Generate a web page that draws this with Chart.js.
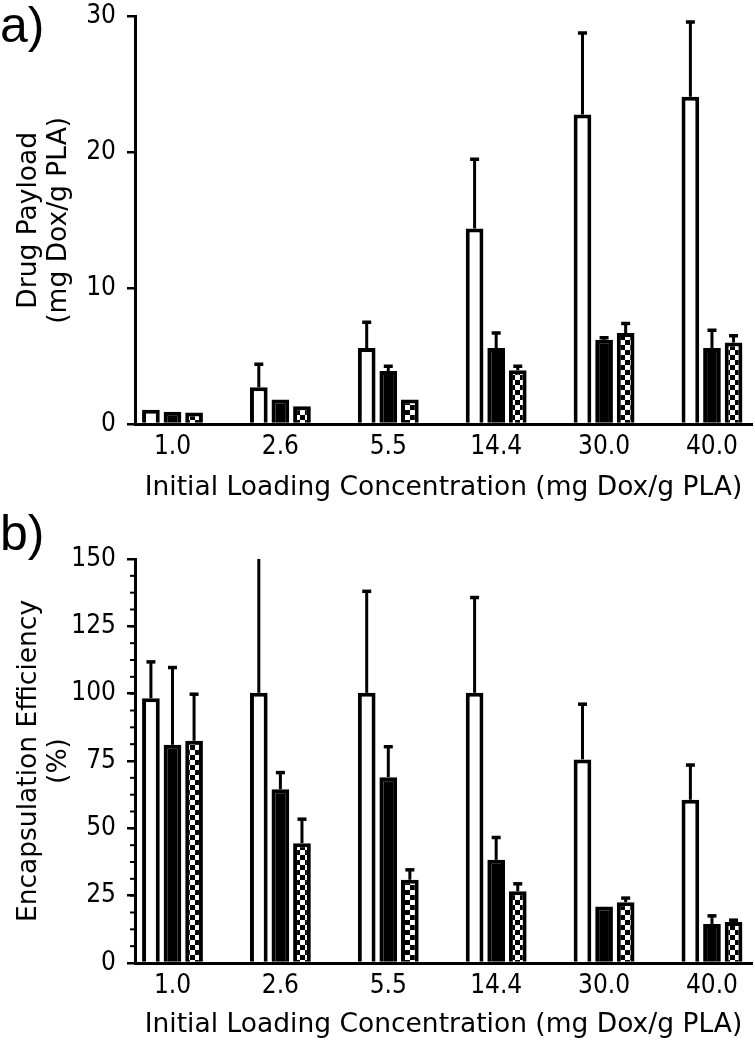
<!DOCTYPE html>
<html lang="en">

<head>
  <meta charset="UTF-8">
  <title>Dox payload e eficiência</title>
  <style>
    body { margin: 0; background: #fff; width: 755px; height: 1050px; position: relative; overflow: hidden; }
    .painel { position: absolute; left: 0; width: 755px; }
    #painel_a { top: -10px; height: 520px; }
    #painel_b { top: 520px; height: 530px; }
    .letra { position: absolute; left: 0; font-family: "Liberation Sans", Arial, sans-serif; font-size: 50px; line-height: 1; color: #000; }
  </style>
  <script src="https://cdn.jsdelivr.net/npm/chart.js"></script>
</head>

<body>
  <div class="painel" id="painel_a"><canvas id="chartPayload"></canvas></div>
  <div class="painel" id="painel_b"><canvas id="chartEficiencia"></canvas></div>
  <div class="letra" style="top:0px">a)</div>
  <div class="letra" style="top:508px">b)</div>

  <script>
    // concentração inicial de carregamento (mg Dox/g PLA)
    var categorias = ["1.0", "2.6", "5.5", "14.4", "30.0", "40.0"];

    // a) carga de fármaco (mg Dox/g PLA) - média e desvio (só para cima)
    var cargaBranca = [1.05, 2.7, 5.6, 14.4, 22.8, 24.1];
    var cargaBrancaErro = [0, 1.7, 1.9, 5.1, 6.0, 5.5];
    var cargaPreta = [0.9, 1.8, 3.9, 5.6, 6.2, 5.6];
    var cargaPretaErro = [0, 0, 0.35, 1.1, 0.15, 1.3];
    var cargaXadrez = [0.85, 1.3, 1.8, 3.95, 6.7, 6.0];
    var cargaXadrezErro = [0, 0, 0, 0.3, 0.7, 0.5];
    var ticksCarga = [0, 10, 20, 30];

    // b) eficiência de encapsulamento (%)
    var eficienciaBranca = [98.3, 100.3, 100.3, 100.3, 75.6, 60.6];
    var eficienciaBrancaErro = [13.5, 51, 37.7, 35.4, 20.5, 12.9];
    var eficienciaPreta = [81, 64.5, 69, 38.3, 21, 14.5];
    var eficienciaPretaErro = [28.7, 6.2, 11.3, 8.3, 0, 3.0];
    var eficienciaXadrez = [82.5, 44.5, 30.9, 26.6, 22.6, 15.2];
    var eficienciaXadrezErro = [17.3, 8.9, 3.7, 2.8, 1.5, 0.7];
    var ticksEficiencia = [0, 25, 50, 75, 100, 125, 150];

    var fonteTicks = { family: "'DejaVu Sans Condensed', 'DejaVu Sans', sans-serif", size: 26 };
    var fonteTitulo = { family: "'DejaVu Sans', sans-serif", size: 26.5, lineHeight: 1.1 };

    // barras de erro desenhadas a partir da escala y
    var pluginErro = {
      id: "barrasErro",
      afterDatasetsDraw(chart) {
        var ctx = chart.ctx;
        var area = chart.chartArea;
        var escalaY = chart.scales.y;
        ctx.save();
        ctx.beginPath();
        ctx.rect(area.left, area.top, area.right - area.left, area.bottom - area.top);
        ctx.clip();
        ctx.strokeStyle = "#000";
        chart.data.datasets.forEach(function (ds, i) {
          var meta = chart.getDatasetMeta(i);
          meta.data.forEach(function (barra, j) {
            var erro = ds.erros[j];
            if (!erro) return;
            var topo = escalaY.getPixelForValue(ds.data[j].y + erro);
            ctx.lineWidth = 3;
            ctx.beginPath();
            ctx.moveTo(barra.x, barra.y);
            ctx.lineTo(barra.x, topo);
            ctx.stroke();
            ctx.lineWidth = 3.5;
            ctx.beginPath();
            ctx.moveTo(barra.x - 4.5, topo);
            ctx.lineTo(barra.x + 4.5, topo);
            ctx.stroke();
          });
        });
        ctx.restore();
      }
    };

    // ticks menores do eixo y (só no gráfico b)
    var pluginTicksMenores = {
      id: "ticksMenores",
      afterDraw(chart, args, opcoes) {
        if (!opcoes.passo) return;
        var escalaY = chart.scales.y;
        var ctx = chart.ctx;
        var x0 = chart.chartArea.left;
        ctx.save();
        ctx.strokeStyle = "#000";
        ctx.lineWidth = 2;
        for (var v = escalaY.min; v <= escalaY.max; v += opcoes.passo) {
          var py = escalaY.getPixelForValue(v);
          ctx.beginPath();
          ctx.moveTo(x0 - 5, py);
          ctx.lineTo(x0, py);
          ctx.stroke();
        }
        ctx.restore();
      }
    };

    function pontos(valores) {
      return valores.map(function (v, i) { return { x: i, y: v }; });
    }

    function criarXadrez(ctx) {
      var c = document.createElement("canvas");
      c.width = 10;
      c.height = 10;
      var cx = c.getContext("2d");
      cx.fillStyle = "#000";
      cx.fillRect(0, 0, 10, 10);
      cx.fillStyle = "#fff";
      cx.fillRect(0, 0, 5, 5);
      cx.fillRect(5, 5, 5, 5);
      return ctx.createPattern(c, "repeat");
    }

    function montarGrafico(idCanvas, series, erros, ticksY, tituloY, paddingTopo, alturaEixoX, paddingTituloX, passoMenor) {
      var canva = document.getElementById(idCanvas);
      var xadrez = criarXadrez(canva.getContext("2d"));
      return new Chart(canva, {
        type: "bar",
        data: {
          datasets: [
            { data: pontos(series[0]), erros: erros[0], backgroundColor: "#fff", borderColor: "#000", borderWidth: 4 },
            { data: pontos(series[1]), erros: erros[1], backgroundColor: "#000", borderColor: "#000", borderWidth: 4 },
            { data: pontos(series[2]), erros: erros[2], backgroundColor: xadrez, borderColor: "#000", borderWidth: 4 }
          ]
        },
        options: {
          responsive: true,
          maintainAspectRatio: false,
          animation: false,
          categoryPercentage: 0.6,
          barPercentage: 0.82,
          layout: { padding: { top: paddingTopo, right: 3, bottom: 0, left: 0 } },
          plugins: {
            legend: { display: false },
            tooltip: { enabled: false },
            ticksMenores: { passo: passoMenor }
          },
          scales: {
            x: {
              type: "linear",
              offset: false,
              min: -0.3475,
              max: 5.371,
              afterBuildTicks: function (escala) {
                escala.ticks = categorias.map(function (c, i) { return { value: i }; });
              },
              afterFit: function (escala) { escala.height = alturaEixoX; },
              grid: { display: false, drawTicks: false },
              border: { display: true, color: "#000", width: 3 },
              ticks: {
                autoSkip: false, maxRotation: 0, padding: 8, color: "#000", font: fonteTicks,
                callback: function (v) { return categorias[v]; }
              },
              title: {
                display: true, text: "Initial Loading Concentration (mg Dox/g PLA)",
                color: "#000", font: fonteTitulo, padding: { top: 0, bottom: paddingTituloX }
              }
            },
            y: {
              min: 0,
              max: ticksY[ticksY.length - 1],
              afterBuildTicks: function (escala) {
                escala.ticks = ticksY.map(function (v) { return { value: v }; });
              },
              afterFit: function (escala) { escala.width = 135; },
              grid: { drawOnChartArea: false, drawTicks: true, tickLength: 8, color: "#000", lineWidth: 2.5 },
              border: { display: true, color: "#000", width: 3 },
              ticks: { padding: 11, color: "#000", font: fonteTicks },
              title: {
                display: true, text: tituloY, color: "#000", font: fonteTitulo,
                padding: { top: 15, bottom: 0 }
              }
            }
          }
        },
        plugins: [pluginErro, pluginTicksMenores]
      });
    }

    var grafico_payload = montarGrafico("chartPayload",
      [cargaBranca, cargaPreta, cargaXadrez],
      [cargaBrancaErro, cargaPretaErro, cargaXadrezErro],
      ticksCarga, ["Drug Payload", "(mg Dox/g PLA)"], 24, 86, 7.5, 0);

    var grafico_eficiencia = montarGrafico("chartEficiencia",
      [eficienciaBranca, eficienciaPreta, eficienciaXadrez],
      [eficienciaBrancaErro, eficienciaPretaErro, eficienciaXadrezErro],
      ticksEficiencia, ["Encapsulation Efficiency", "(%)"], 39, 87, 10.5, 6.25);
  </script>
</body>

</html>
